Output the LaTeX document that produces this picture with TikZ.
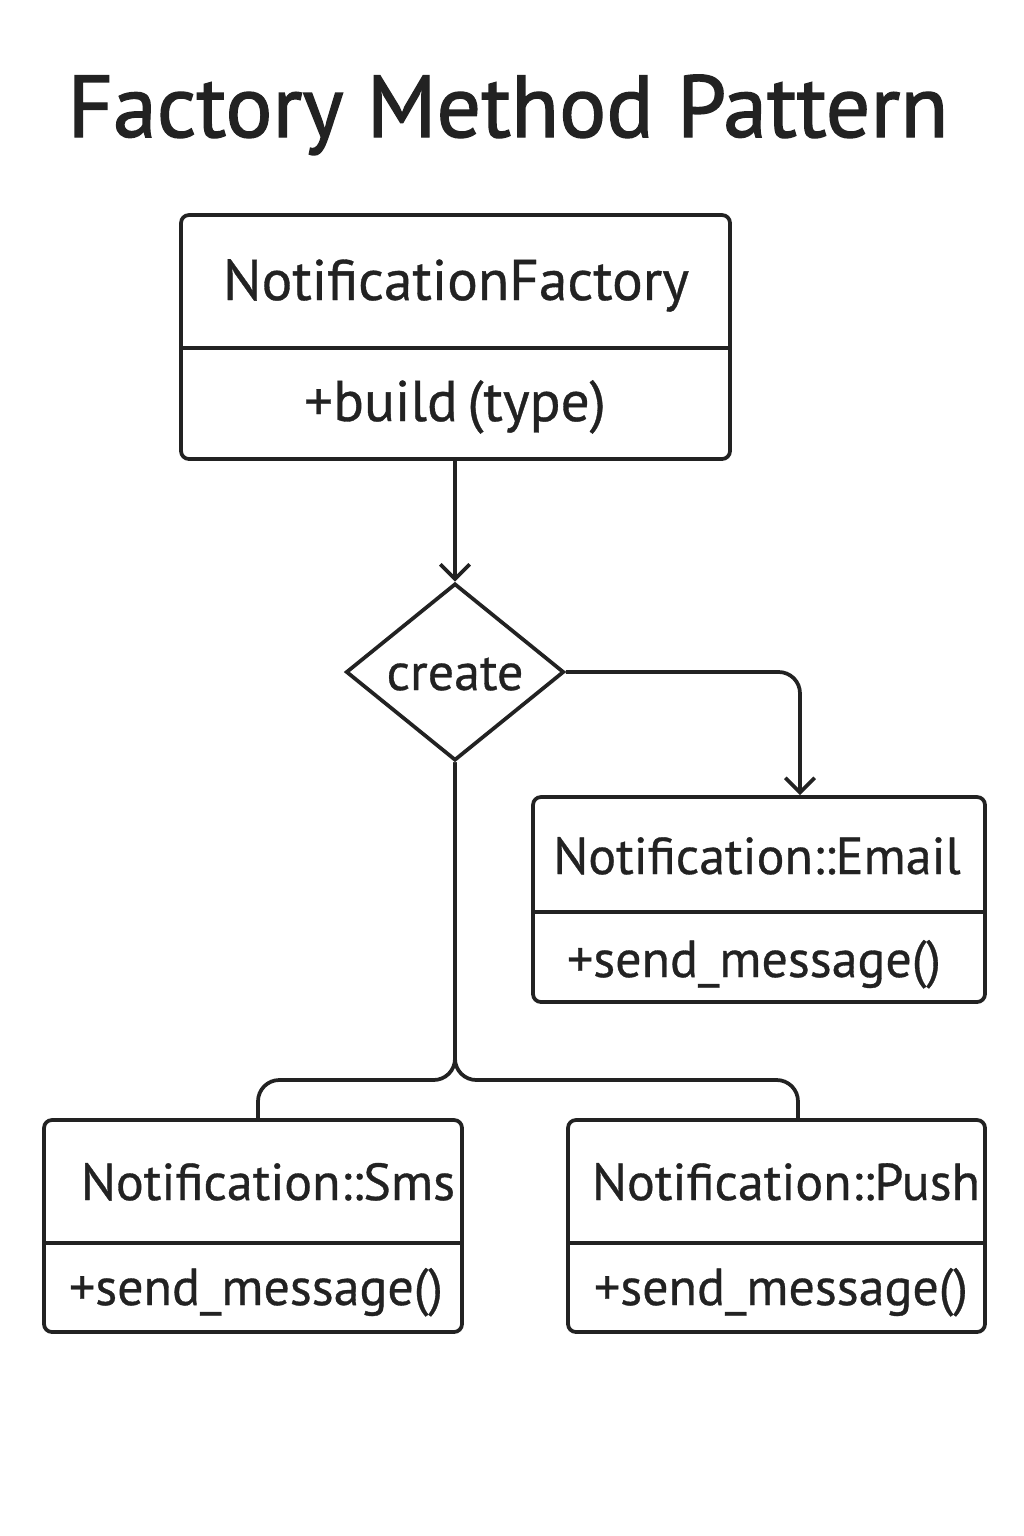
\documentclass[tikz,border=0pt]{standalone}
\usepackage{fontspec}
\setmainfont{PT Sans}
\newfontfamily\titlefont{PT Sans}[FakeBold=1.5]
\newfontfamily\boxfont{PT Sans}[FakeBold=0.6]
\usetikzlibrary{arrows.meta,shapes.geometric,fit}
\definecolor{ink}{HTML}{222222}
\tikzset{
  classbox/.style={draw=ink, line width=2.8pt, rounded corners=6pt, inner sep=0pt},
  divider/.style={draw=ink, line width=2.8pt},
  label/.style={text=ink, inner sep=0pt, anchor=base, font=\fontsize{39}{44}\boxfont},
  biglabel/.style={label, font=\fontsize{43}{48}\boxfont},
  link/.style={draw=ink, line width=2.8pt, rounded corners=16pt},
  tip/.style={-{Straight Barb[length=11pt,width=22pt,line width=2.8pt]}},
}
\begin{document}
\begin{tikzpicture}[x=0.75pt,y=-0.75pt]
  \fill[white] (0,0) rectangle (1024,1536);
  \useasboundingbox (0,0) rectangle (1024,1536);

  % title
  \node[text=ink, inner sep=0pt, anchor=base, font=\fontsize{66}{72}\titlefont] (title) at (508,137) {Factory Method Pattern};

  % factory class
  \node[classbox, fit={(181,215)(730,459)}] (fac) {};
  \draw[divider] (fac.west |- 0,348) -- (fac.east |- 0,348);
  \node[biglabel] (facname) at (456,300) {NotificationFactory};
  \node[biglabel] (facop) at (455,421) {+build\,(type)};

  % decision
  \node[diamond, draw=ink, line width=2.8pt, minimum width=163.5pt, minimum height=132.75pt, inner sep=0pt] (dec) at (455,672) {};
  \node[label] (decname) at (455,690) {create};

  % email class
  \node[classbox, fit={(533,797)(985,1002)}] (email) {};
  \draw[divider] (email.west |- 0,912) -- (email.east |- 0,912);
  \node[label] (emailname) at (757,874) {Notification::Email};
  \node[label] (emailop) at (754,977) {+send\_message()};

  % sms class
  \node[classbox, fit={(44,1120)(462,1332)}] (sms) {};
  \draw[divider] (sms.west |- 0,1243) -- (sms.east |- 0,1243);
  \node[label] (smsname) at (268,1200) {Notification::Sms};
  \node[label] (smsop) at (256,1305) {+send\_message()};

  % push class
  \node[classbox, fit={(568,1120)(985,1332)}] (push) {};
  \draw[divider] (push.west |- 0,1243) -- (push.east |- 0,1243);
  \node[label] (pushname) at (786,1200) {Notification::Push};
  \node[label] (pushop) at (781,1305) {+send\_message()};

  % connectors
  \draw[link, tip] (fac.south -| dec.north) -- (dec.north);
  \draw[link, tip] (dec.east) -| (email.north -| 800,0);
  \coordinate (split) at (455,1080);
  \draw[link] (dec.south) -- (split) -| (sms.north -| 258,0);
  \draw[link] (dec.south) -- (split) -| (push.north -| 798,0);
\end{tikzpicture}
\end{document}
